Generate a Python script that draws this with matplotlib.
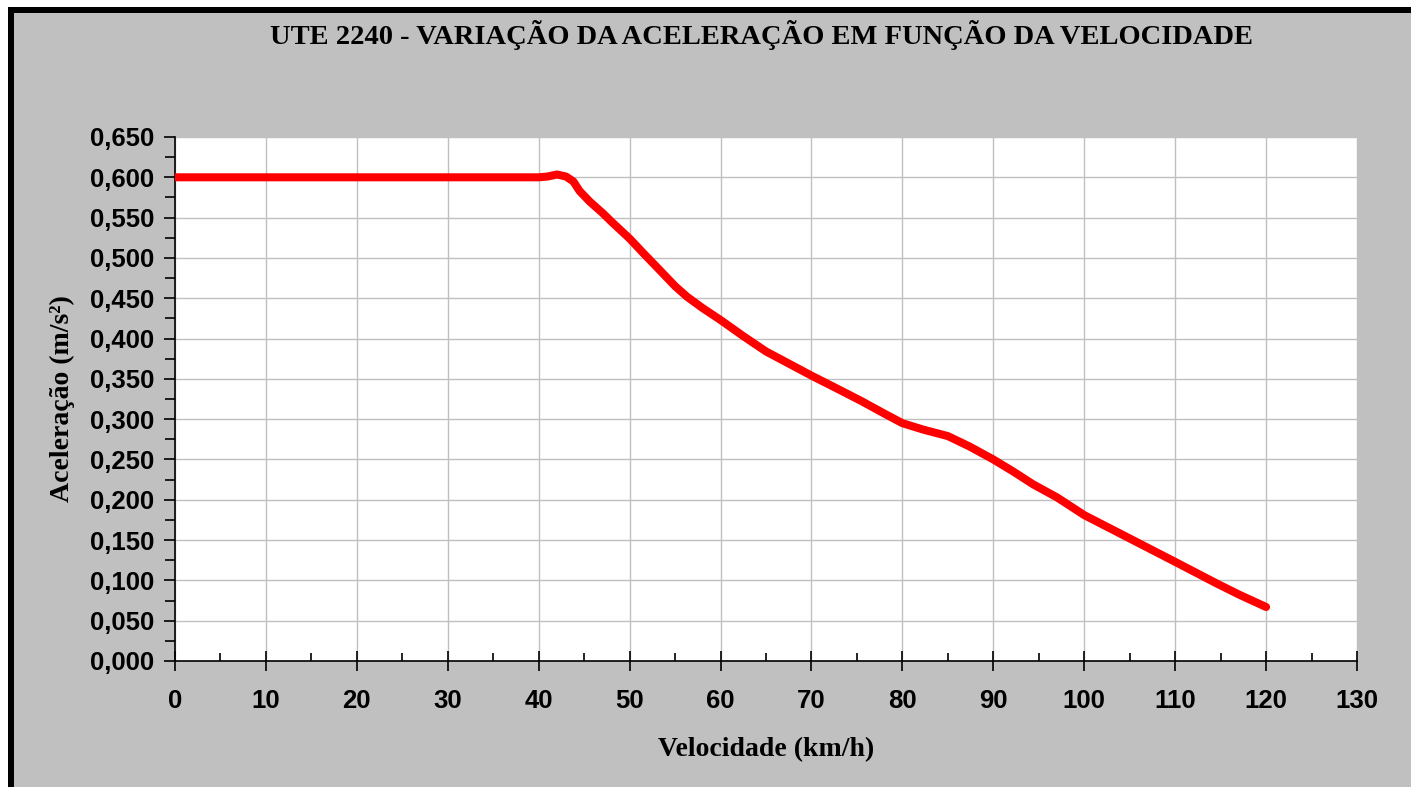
import matplotlib
matplotlib.use("Agg")
import matplotlib.pyplot as plt
from matplotlib.patches import Rectangle
from matplotlib.ticker import MultipleLocator, FuncFormatter

# velocidade (km/h) x aceleração (m/s2)
velocidade = [0, 10, 20, 30, 40, 41, 42, 43, 43.8, 44.5, 45.6, 47, 48, 50,
              51.5, 53.3, 55, 56.3, 58, 60, 62.5, 65, 67.5, 70, 72.8, 75.4,
              78, 80, 82.3, 85, 87.4, 90, 92.2, 94.4, 97, 100, 105, 110,
              114.6, 117.1, 120]
aceleracao = [0.600, 0.600, 0.600, 0.600, 0.600, 0.601, 0.6035, 0.601, 0.595,
              0.583, 0.570, 0.556, 0.545, 0.524, 0.506, 0.485, 0.465, 0.452,
              0.438, 0.423, 0.403, 0.384, 0.369, 0.354, 0.338, 0.323, 0.307,
              0.295, 0.287, 0.279, 0.266, 0.250, 0.235, 0.219, 0.203, 0.181,
              0.152, 0.123, 0.096, 0.082, 0.067]

titulo = "UTE 2240 - VARIAÇÃO DA ACELERAÇÃO EM FUNÇÃO DA VELOCIDADE"
xlabel = "Velocidade (km/h)"
ylabel = "Aceleração (m/s²)"

W, H = 1411, 787
fig = plt.figure(figsize=(W / 100, H / 100), dpi=100)
fig.patch.set_facecolor("white")

# fundo cinza com borda preta (topo e esquerda)
fig.patches.append(Rectangle((8 / W, 0), 1, (H - 7) / H, transform=fig.transFigure,
                             facecolor="#c0c0c0", edgecolor="none", zorder=-10))
fig.patches.append(Rectangle((8 / W, 0), 6 / W, (H - 7) / H, transform=fig.transFigure,
                             facecolor="black", edgecolor="none", zorder=-9))
fig.patches.append(Rectangle((8 / W, (H - 13) / H), 1, 6 / H, transform=fig.transFigure,
                             facecolor="black", edgecolor="none", zorder=-9))

ax = fig.add_axes([175 / W, 1 - 661 / H, (1357 - 175) / W, (661 - 137) / H])
ax.set_facecolor("white")

ax.plot(velocidade, aceleracao, color="#ff0000", lw=5.8,
        solid_capstyle="round", solid_joinstyle="round", zorder=3)

ax.set_xlim(0, 130)
ax.set_ylim(0, 0.65)
ax.xaxis.set_major_locator(MultipleLocator(10))
ax.xaxis.set_minor_locator(MultipleLocator(5))
ax.yaxis.set_major_locator(MultipleLocator(0.05))
ax.yaxis.set_minor_locator(MultipleLocator(0.025))
ax.yaxis.set_major_formatter(FuncFormatter(lambda v, p: f"{v:.3f}".replace(".", ",")))

ax.grid(True, which="major", color="#c0c0c0", lw=1)
ax.set_axisbelow(True)

for side in ["top", "right"]:
    ax.spines[side].set_visible(False)
for side in ["left", "bottom"]:
    ax.spines[side].set_linewidth(1.2)

ax.tick_params(axis="x", which="major", direction="inout", length=15, width=1.2, pad=13)
ax.tick_params(axis="x", which="minor", direction="in", length=6, width=1.2)
ax.tick_params(axis="y", which="major", direction="out", length=8, width=1.2, pad=7)
ax.tick_params(axis="y", which="minor", direction="out", length=7, width=1.2)

for lab in ax.get_xticklabels() + ax.get_yticklabels():
    lab.set_fontfamily("Liberation Sans")
    lab.set_fontweight("bold")
    lab.set_fontsize(18.5)

serif = {"family": "Liberation Serif", "weight": "bold", "size": 20}
fig.text(761 / W, 1 - 35 / H, titulo, ha="center", va="center",
         fontdict=dict(serif, size=20.5))
fig.text(766 / W, 1 - 750 / H, xlabel, ha="center", va="center", fontdict=serif)
fig.text(62 / W, 1 - 399 / H, ylabel, ha="center", va="center", rotation=90, fontdict=serif)

fig.savefig("out.png", dpi=100, facecolor=fig.get_facecolor())
